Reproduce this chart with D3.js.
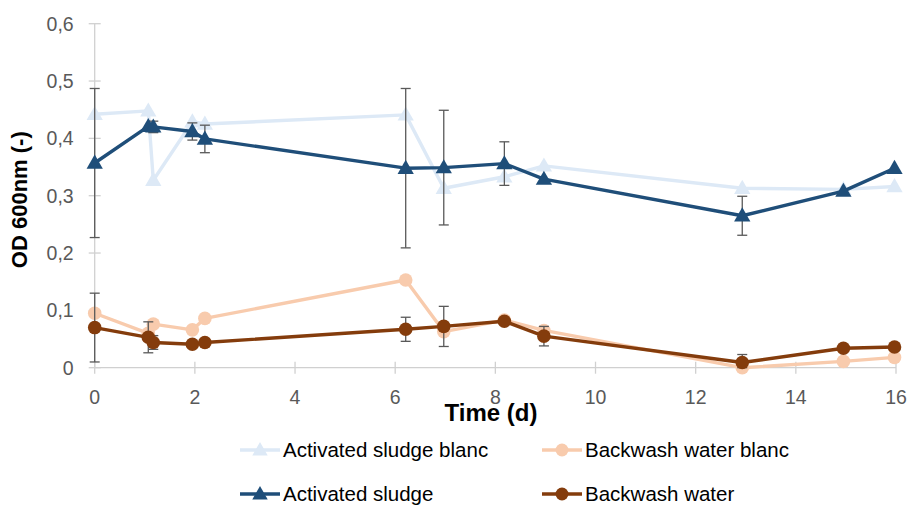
<!DOCTYPE html>
<html>
<head>
<meta charset="utf-8">
<script src="https://cdn.jsdelivr.net/npm/d3@7"></script>
<style>
  html, body { margin: 0; padding: 0; background: #fff; }
  svg { display: block; }
</style>
</head>
<body>
<script>
// Sampling days and optical density readings per series
const days = [0, 1.07, 1.17, 1.95, 2.2, 6.21, 6.97, 8.18, 8.97, 12.93, 14.95, 15.97];
const sludgeBlanc = [0.442, 0.448, 0.327, 0.429, 0.425, 0.441, 0.313, 0.333, 0.352, 0.313, 0.311, 0.316];
const backwashBlanc = [0.095, 0.060, 0.076, 0.066, 0.086, 0.153, 0.063, 0.083, 0.065, 0.0, 0.011, 0.018];
const sludge = [0.357, 0.421, 0.420, 0.412, 0.399, 0.348, 0.349, 0.356, 0.329, 0.265, 0.308, 0.348];
const backwash = [0.070, 0.053, 0.044, 0.041, 0.044, 0.067, 0.072, 0.081, 0.055, 0.009, 0.034, 0.036];
// Standard deviations (0 = no error bar)
const sludgeErr = [0.13, 0, 0.01, 0.015, 0.024, 0.139, 0.1, 0.038, 0, 0.034, 0, 0];
const backwashErr = [0.06, 0.027, 0.012, 0, 0, 0.021, 0.035, 0, 0.017, 0.014, 0, 0];

const xTicks = [0, 2, 4, 6, 8, 10, 12, 14, 16];
const yTicks = [0, 0.1, 0.2, 0.3, 0.4, 0.5, 0.6];
const yTickLabels = ["0", "0,1", "0,2", "0,3", "0,4", "0,5", "0,6"];

const seriesNames = ["Activated sludge blanc", "Backwash water blanc", "Activated sludge", "Backwash water"];

const W = 913, H = 507;
const FONT = "'Liberation Sans', Arial, sans-serif";

const svg = d3.select("body").append("svg").attr("width", W).attr("height", H);

const x = d3.scaleLinear().domain([0, 16]).range([94.7, 896]);
const y = d3.scaleLinear().domain([0, 0.6]).range([367.7, 23.7]);

// Axes
const axisColor = "#d0d0d0";
const gx = svg.append("g").attr("transform", `translate(0,${y(0)})`);
gx.append("line").attr("x1", x(0)).attr("x2", x(16)).attr("stroke", axisColor).attr("stroke-width", 1.3);
gx.selectAll("line.tick").data(xTicks).join("line").attr("class", "tick")
  .attr("x1", d => x(d)).attr("x2", d => x(d)).attr("y1", -6).attr("y2", 6)
  .attr("stroke", axisColor).attr("stroke-width", 1.3);
gx.selectAll("text").data(xTicks).join("text")
  .attr("x", d => x(d)).attr("y", 36).attr("text-anchor", "middle")
  .attr("font-family", FONT).attr("font-size", 19.5).attr("fill", "#595959")
  .text(d => d);

const gy = svg.append("g").attr("transform", `translate(${x(0)},0)`);
gy.append("line").attr("y1", y(0)).attr("y2", y(0.6)).attr("stroke", axisColor).attr("stroke-width", 1.3);
gy.selectAll("line.tick").data(yTicks).join("line").attr("class", "tick")
  .attr("y1", d => y(d)).attr("y2", d => y(d)).attr("x1", -6).attr("x2", 6)
  .attr("stroke", axisColor).attr("stroke-width", 1.3);
gy.selectAll("text").data(yTicks).join("text")
  .attr("x", -21).attr("y", d => y(d)).attr("dy", "0.35em").attr("text-anchor", "end")
  .attr("font-family", FONT).attr("font-size", 19.5).attr("fill", "#595959")
  .text((d, i) => yTickLabels[i]);

// Axis titles
svg.append("text").attr("x", 491).attr("y", 421).attr("text-anchor", "middle")
  .attr("font-family", FONT).attr("font-weight", "bold").attr("font-size", 24).attr("fill", "#000")
  .text("Time (d)");
svg.append("text").attr("transform", `translate(27,${y(0.3) + 4}) rotate(-90)`).attr("text-anchor", "middle")
  .attr("font-family", FONT).attr("font-weight", "bold").attr("font-size", 22).attr("fill", "#000")
  .text("OD 600nm (-)");

const series = [
  { name: seriesNames[0], values: sludgeBlanc, err: null, color: "#dde9f6", shape: "tri" },
  { name: seriesNames[1], values: backwashBlanc, err: null, color: "#f8cbad", shape: "circ" },
  { name: seriesNames[2], values: sludge, err: sludgeErr, color: "#1f4e79", shape: "tri" },
  { name: seriesNames[3], values: backwash, err: backwashErr, color: "#843c0c", shape: "circ" }
];

const triSym = d3.symbol().type(d3.symbolTriangle).size(115);
const line = d3.line().x(d => x(d[0])).y(d => y(d[1]));

function drawMarker(g, shape, color, cx, cy, scale) {
  if (shape === "tri") {
    g.append("path").attr("d", triSym.size(115 * scale)()).attr("transform", `translate(${cx},${cy + 1})`).attr("fill", color);
  } else {
    g.append("circle").attr("cx", cx).attr("cy", cy).attr("r", 6.8 * Math.sqrt(scale)).attr("fill", color);
  }
}

const plot = svg.append("g");
series.forEach(s => {
  const g = plot.append("g");
  const pts = days.map((d, i) => [d, s.values[i]]);
  if (s.err) {
    const eb = g.append("g").attr("stroke", "#595959").attr("stroke-width", 1.3);
    pts.forEach((p, i) => {
      const e = s.err[i];
      if (!e) return;
      const cx = x(p[0]), top = y(p[1] + e), bot = y(Math.max(p[1] - e, 0));
      eb.append("line").attr("x1", cx).attr("x2", cx).attr("y1", top).attr("y2", bot);
      eb.append("line").attr("x1", cx - 5).attr("x2", cx + 5).attr("y1", top).attr("y2", top);
      eb.append("line").attr("x1", cx - 5).attr("x2", cx + 5).attr("y1", bot).attr("y2", bot);
    });
  }
  g.append("path").datum(pts).attr("d", line).attr("fill", "none")
    .attr("stroke", s.color).attr("stroke-width", 3.4).attr("stroke-linejoin", "round");
  pts.forEach(p => drawMarker(g, s.shape, s.color, x(p[0]), y(p[1]), 1));
});

// Legend: two columns, two rows
const legendPos = [[240, 450], [542, 450], [240, 494], [542, 494]];
series.forEach((s, i) => {
  const [lx, ly] = legendPos[i];
  const g = svg.append("g");
  g.append("line").attr("x1", lx).attr("x2", lx + 40).attr("y1", ly).attr("y2", ly)
    .attr("stroke", s.color).attr("stroke-width", 3.4);
  drawMarker(g, s.shape, s.color, lx + 20, ly, 0.9);
  g.append("text").attr("x", lx + 43).attr("y", ly).attr("dy", "0.35em")
    .attr("font-family", FONT).attr("font-size", 20.5).attr("fill", "#000")
    .text(s.name);
});
</script>
</body>
</html>
